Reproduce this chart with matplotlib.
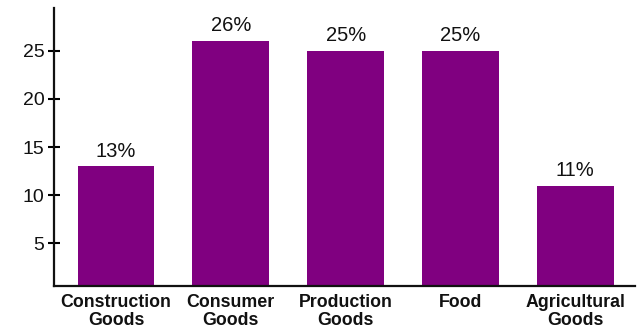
import matplotlib
matplotlib.use("Agg")
import matplotlib.pyplot as plt

categories = ["Construction\nGoods", "Consumer\nGoods", "Production\nGoods", "Food", "Agricultural\nGoods"]
shares = [13, 26, 25, 25, 11]
share_labels = ["13%", "26%", "25%", "25%", "11%"]
y_ticks = [5, 10, 15, 20, 25]

plt.rcParams["font.family"] = ["Liberation Sans", "DejaVu Sans"]

fig = plt.figure(figsize=(6.43, 3.36), dpi=100)
ax = fig.add_axes([0.084, 0.149, 0.9036, 0.827])

x = list(range(len(categories)))
bars = ax.bar(x, shares, width=0.67, color="#800080", zorder=2)

for rect, text in zip(bars, share_labels):
    ax.annotate(text, (rect.get_x() + rect.get_width() / 2, rect.get_height()),
                xytext=(0, 4), textcoords="offset points",
                ha="center", va="bottom", fontsize=14.5, color="#111111")

ax.set_xlim(-0.54, 4.52)
ax.set_ylim(0.6, 29.4)
ax.set_yticks(y_ticks)
ax.set_yticklabels([str(v) for v in y_ticks], fontsize=14, color="#111111")
ax.set_xticks(x)
ax.set_xticklabels(categories, fontsize=12.8, fontweight="bold", color="#111111",
                   linespacing=1.1)

ax.tick_params(axis="y", direction="inout", length=8, width=1.5, pad=3)
ax.tick_params(axis="x", length=0, pad=5.5)

for side in ("top", "right"):
    ax.spines[side].set_visible(False)
for side in ("left", "bottom"):
    ax.spines[side].set_linewidth(1.6)
    ax.spines[side].set_color("#111111")

fig.savefig("out.png", dpi=100, facecolor="white")
